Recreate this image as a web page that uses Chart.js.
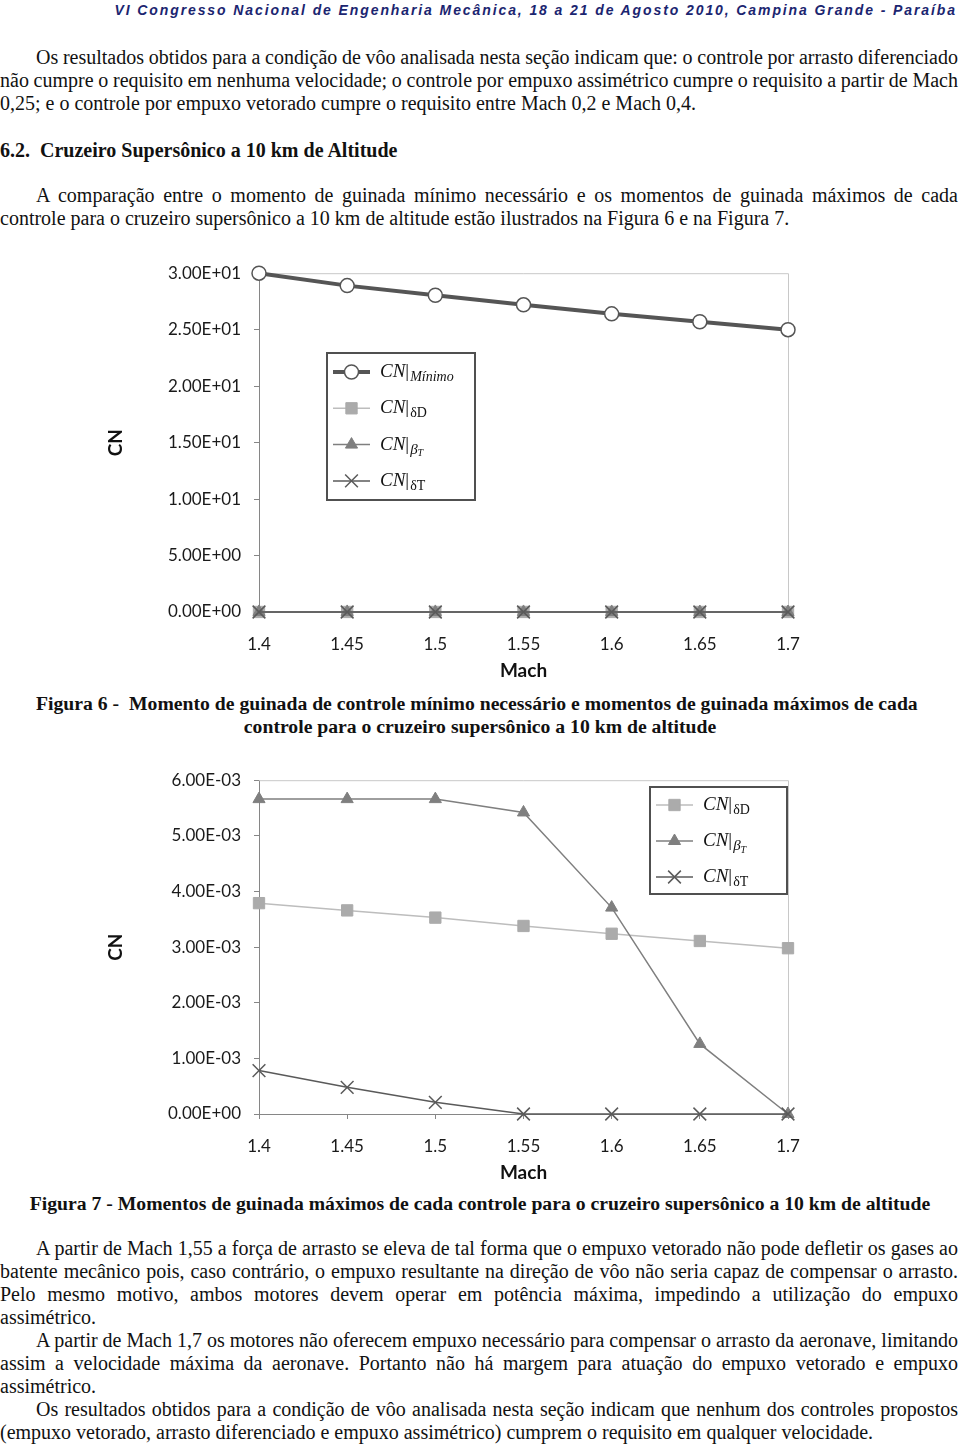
<!DOCTYPE html>
<html lang="pt">
<head>
<meta charset="utf-8">
<script src="https://cdn.jsdelivr.net/npm/chart.js@4/dist/chart.umd.min.js"></script>
<style>
  html, body { margin: 0; padding: 0; background: #fff; }
  body { width: 960px; height: 1444px; position: relative; overflow: hidden; }
  .hdr { position: absolute; right: 3px; top: 2px; font: italic bold 14px "Liberation Sans", Arial, sans-serif; letter-spacing: 1.9px; color: #1b2570; white-space: nowrap; }
  .ln { position: absolute; left: 0; width: 958px; height: 23px; line-height: 23px; font: 20px "Liberation Serif", "Times New Roman", serif; color: #111; white-space: nowrap; }
  .j { text-align: justify; text-align-last: justify; word-spacing: -3px; }
  .ind { left: 36px; width: 922px; }
  .b { font-weight: bold; }
  .cap { font-size: 19.7px; }
  .c { text-align: center; width: 960px; }
  canvas { position: absolute; }
</style>
</head>
<body>
<div class="hdr">VI Congresso Nacional de Engenharia Mecânica, 18 a 21 de Agosto 2010, Campina Grande - Paraíba</div>

<div class="ln j ind" style="top:46px">Os resultados obtidos para a condição de vôo analisada nesta seção indicam que: o controle por arrasto diferenciado</div>
<div class="ln j" style="top:69px">não cumpre o requisito em nenhuma velocidade; o controle por empuxo assimétrico cumpre o requisito a partir de Mach</div>
<div class="ln" style="top:92px">0,25; e o controle por empuxo vetorado cumpre o requisito entre Mach 0,2 e Mach 0,4.</div>

<div class="ln b" style="top:139px">6.2.&nbsp; Cruzeiro Supersônico a 10 km de Altitude</div>

<div class="ln j ind" style="top:184px">A comparação entre o momento de guinada mínimo necessário e os momentos de guinada máximos de cada</div>
<div class="ln" style="top:207px">controle para o cruzeiro supersônico a 10 km de altitude estão ilustrados na Figura 6 e na Figura 7.</div>

<canvas id="fig6" width="730" height="440" style="left:100px; top:250px"></canvas>

<div class="ln b cap" style="top:692px; left:36px; width:888px;">Figura 6 -&nbsp; Momento de guinada de controle mínimo necessário e momentos de guinada máximos de cada</div>
<div class="ln b c cap" style="top:715px; left:0;">controle para o cruzeiro supersônico a 10 km de altitude</div>

<canvas id="fig7" width="730" height="435" style="left:100px; top:757px"></canvas>

<div class="ln b c cap" style="top:1192px; left:0;">Figura 7 - Momentos de guinada máximos de cada controle para o cruzeiro supersônico a 10 km de altitude</div>

<div class="ln j ind" style="top:1237px">A partir de Mach 1,55 a força de arrasto se eleva de tal forma que o empuxo vetorado não pode defletir os gases ao</div>
<div class="ln j" style="top:1260px">batente mecânico pois, caso contrário, o empuxo resultante na direção de vôo não seria capaz de compensar o arrasto.</div>
<div class="ln j" style="top:1283px">Pelo mesmo motivo, ambos motores devem operar em potência máxima, impedindo a utilização do empuxo</div>
<div class="ln" style="top:1306px">assimétrico.</div>
<div class="ln j ind" style="top:1329px">A partir de Mach 1,7 os motores não oferecem empuxo necessário para compensar o arrasto da aeronave, limitando</div>
<div class="ln j" style="top:1352px">assim a velocidade máxima da aeronave. Portanto não há margem para atuação do empuxo vetorado e empuxo</div>
<div class="ln" style="top:1375px">assimétrico.</div>
<div class="ln j ind" style="top:1398px">Os resultados obtidos para a condição de vôo analisada nesta seção indicam que nenhum dos controles propostos</div>
<div class="ln" style="top:1421px">(empuxo vetorado, arrasto diferenciado e empuxo assimétrico) cumprem o requisito em qualquer velocidade.</div>

<script>
// ---- data ----
const machLabels = ['1.4', '1.45', '1.5', '1.55', '1.6', '1.65', '1.7'];
const cnMinimo = [30.0, 28.9, 28.05, 27.2, 26.4, 25.7, 25.0];
const cnDeltaD = [3.79e-3, 3.66e-3, 3.53e-3, 3.38e-3, 3.24e-3, 3.11e-3, 2.98e-3];
const cnBetaT  = [5.66e-3, 5.66e-3, 5.66e-3, 5.42e-3, 3.71e-3, 1.26e-3, 0];
const cnDeltaT = [0.78e-3, 0.48e-3, 0.21e-3, 0, 0, 0, 0];
const fig6Range = { min: 0, max: 30, step: 5 };
const fig7Range = { min: 0, max: 6e-3, step: 1e-3 };

// ---- styles ----
const C_MIN = '#555555', C_DD = '#ababab', C_DDL = '#bdbdbd', C_BT = '#7f7f7f', C_DT = '#5a5a5a';
const TICKFONT = { family: 'Lato, "Open Sans", sans-serif', size: 17 };

function sci(v) {
  let s = Number(v).toExponential(2).toUpperCase();
  return s.replace(/E([+-])(\d)$/, 'E$10$2');
}

const styleMin = { pointStyle: 'circle', pointRadius: 7, borderColor: C_MIN, backgroundColor: '#fff', pointBorderColor: C_MIN, borderWidth: 4, pointBorderWidth: 1.5 };
const styleDD  = { pointStyle: 'rect', pointRadius: 8, borderColor: C_DDL, backgroundColor: C_DD, pointBorderColor: C_DD, borderWidth: 1.5, pointBorderWidth: 1 };
const styleBT  = { pointStyle: 'triangle', pointRadius: 7, borderColor: C_BT, backgroundColor: C_BT, pointBorderColor: C_BT, borderWidth: 1.5, pointBorderWidth: 1 };
const styleDT  = { pointStyle: 'crossRot', pointRadius: 9, borderColor: C_DT, backgroundColor: C_DT, pointBorderColor: C_DT, borderWidth: 1.5, pointBorderWidth: 1.5 };

function ds(label, data, st, order) {
  return Object.assign({ label, data, order, clip: false, fill: false, tension: 0, pointHoverRadius: st.pointRadius }, st);
}

// rich text legend entries: segments of [text, font, dy]
const SERIF = '"Liberation Serif", "DejaVu Serif", serif';
const legendDefs = {
  min: [['CN', 'italic 19px ' + SERIF, 0], ['|', '19px ' + SERIF, 0], ['Mínimo', 'italic 14px ' + SERIF, 5]],
  dd:  [['CN', 'italic 19px ' + SERIF, 0], ['|', '19px ' + SERIF, 0], ['δD', '14px ' + SERIF, 5]],
  bt:  [['CN', 'italic 19px ' + SERIF, 0], ['|', '19px ' + SERIF, 0], ['β', 'italic 15px ' + SERIF, 5], ['T', 'italic 10px ' + SERIF, 9]],
  dt:  [['CN', 'italic 19px ' + SERIF, 0], ['|', '19px ' + SERIF, 0], ['δT', '14px ' + SERIF, 5]]
};

const framePlugin = {
  id: 'frame',
  beforeDatasetsDraw(chart) {
    const { ctx, chartArea: a } = chart;
    ctx.save();
    ctx.strokeStyle = '#c8c8c8';
    ctx.lineWidth = 1;
    ctx.beginPath();
    ctx.moveTo(a.left, a.top + 0.5);
    ctx.lineTo(a.right + 0.5, a.top + 0.5);
    ctx.lineTo(a.right + 0.5, a.bottom);
    ctx.stroke();
    ctx.restore();
  }
};

const legendPlugin = {
  id: 'richLegend',
  afterDraw(chart, args, opts) {
    if (!opts || !opts.box) return;
    const { ctx } = chart;
    const b = opts.box;
    ctx.save();
    ctx.strokeStyle = '#505050';
    ctx.lineWidth = 2;
    ctx.fillStyle = '#fff';
    ctx.fillRect(b.x, b.y, b.w, b.h);
    ctx.strokeRect(b.x, b.y, b.w, b.h);
    opts.items.forEach((it, i) => {
      const y = b.y + opts.first + i * opts.gap;
      const x0 = b.x + 6, x1 = b.x + 43;
      const d = chart.data.datasets[it.ds];
      ctx.strokeStyle = d.borderColor;
      ctx.lineWidth = d.borderWidth;
      ctx.beginPath(); ctx.moveTo(x0, y); ctx.lineTo(x1, y); ctx.stroke();
      ctx.fillStyle = d.backgroundColor;
      ctx.strokeStyle = d.pointBorderColor || d.borderColor;
      ctx.lineWidth = d.pointBorderWidth;
      Chart.helpers.drawPoint(ctx, { pointStyle: d.pointStyle, radius: d.pointRadius, rotation: 0, borderWidth: d.pointBorderWidth }, (x0 + x1) / 2, y);
      let tx = b.x + 53;
      ctx.fillStyle = '#111';
      ctx.textBaseline = 'middle';
      ctx.textAlign = 'left';
      legendDefs[it.key].forEach(([t, f, dy]) => {
        ctx.font = f;
        ctx.fillText(t, tx, y + dy);
        tx += ctx.measureText(t).width + (t === '|' ? 1 : 0);
      });
    });
    ctx.restore();
  }
};

function makeChart(id, datasets, range, legendOpts, xHeight) {
  return new Chart(document.getElementById(id), {
    type: 'line',
    data: { labels: machLabels, datasets },
    plugins: [framePlugin, legendPlugin],
    options: {
      responsive: false,
      animation: false,
      devicePixelRatio: 1,
      layout: { padding: { top: 18, right: 42, left: 0, bottom: 0 } },
      plugins: { legend: { display: false }, tooltip: { enabled: false }, richLegend: legendOpts },
      scales: {
        x: {
          type: 'category',
          offset: false,
          border: { color: '#868686', width: 1 },
          grid: { drawOnChartArea: false, tickLength: 5, color: '#868686' },
          ticks: { font: TICKFONT, color: '#1a1a1a', padding: 17, maxRotation: 0, autoSkip: false },
          title: { display: true, text: 'Mach', font: { family: 'Lato, "Open Sans", sans-serif', size: 19, weight: 'bold' }, color: '#111', padding: { top: 0, bottom: 8 } },
          afterFit(s) { s.height = xHeight; }
        },
        y: {
          min: range.min, max: range.max,
          border: { color: '#868686', width: 1 },
          grid: { drawOnChartArea: false, tickLength: 5, color: '#868686' },
          ticks: { stepSize: range.step, font: TICKFONT, color: '#1a1a1a', padding: 13, callback: (v) => sci(v) },
          title: { display: true, text: 'CN', font: { family: 'Lato, "Open Sans", sans-serif', size: 19, weight: 'bold' }, color: '#111', padding: { top: 4, bottom: 0 } },
          afterFit(s) { s.width = 159; }
        }
      }
    }
  });
}

makeChart('fig6', [
  ds('CN|Mínimo', cnMinimo, styleMin, 0),
  ds('CN|δT', cnDeltaT, styleDT, 1),
  ds('CN|βT', cnBetaT, styleBT, 2),
  ds('CN|δD', cnDeltaD, styleDD, 3)
], fig6Range, {
  box: { x: 227, y: 103, w: 148, h: 147 }, first: 19, gap: 36.3,
  items: [{ ds: 0, key: 'min' }, { ds: 3, key: 'dd' }, { ds: 2, key: 'bt' }, { ds: 1, key: 'dt' }]
}, 78);

makeChart('fig7', [
  ds('CN|δT', cnDeltaT, styleDT, 1),
  ds('CN|βT', cnBetaT, styleBT, 2),
  ds('CN|δD', cnDeltaD, styleDD, 3)
], fig7Range, {
  box: { x: 550, y: 30, w: 137, h: 107 }, first: 18, gap: 36,
  items: [{ ds: 2, key: 'dd' }, { ds: 1, key: 'bt' }, { ds: 0, key: 'dt' }]
}, 78);
</script>
</body>
</html>
